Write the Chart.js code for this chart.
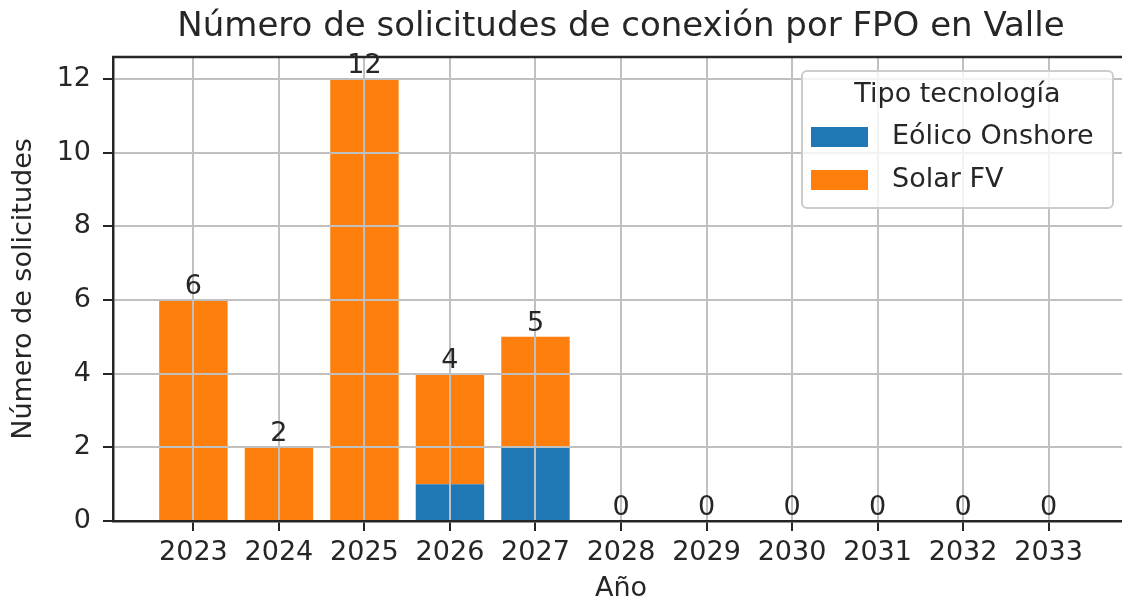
<!DOCTYPE html>
<html>
<head>
<meta charset="utf-8">
<script src="https://cdn.jsdelivr.net/npm/chart.js@4.4.0/dist/chart.umd.min.js"></script>
<style>
html,body{margin:0;padding:0;background:#fff;overflow:hidden}
#wrap{width:1134px;height:605px;position:relative}
</style>
</head>
<body>
<div id="wrap"><canvas id="c"></canvas></div>
<script>
/* ===== DATA ===== */
const years=['2023','2024','2025','2026','2027','2028','2029','2030','2031','2032','2033'];
const eolico=[0,0,0,1,2,0,0,0,0,0,0];
const solar=[6,2,12,3,3,0,0,0,0,0,0];
const yTicks=[0,2,4,6,8,10,12];
const seriesNames=['Eólico Onshore','Solar FV'];
const seriesColors=['#1f77b4','#ff7f0e'];
const legendTitle='Tipo tecnología';
const chartTitle='Número de solicitudes de conexión por FPO en Valle';

const INK='#262626';
const FONT='"DejaVu Sans", sans-serif';
Chart.defaults.font.family=FONT;
Chart.defaults.color=INK;

const totals=years.map((_,i)=>eolico[i]+solar[i]);

// title, totals above bars, top spine, legend box (drawn after grid)
const overlay={
  id:'overlay',
  afterDraw(chart){
    const ctx=chart.ctx, a=chart.chartArea, xs=chart.scales.x, ys=chart.scales.y;
    ctx.save();
    // title centred over the axes
    ctx.font='34px '+FONT;ctx.fillStyle=INK;ctx.textAlign='center';ctx.textBaseline='middle';
    ctx.fillText(chartTitle,(a.left+a.right)/2,27);
    // top spine
    ctx.strokeStyle=INK;ctx.lineWidth=2.5;
    ctx.beginPath();ctx.moveTo(a.left-1,a.top);ctx.lineTo(a.right,a.top);ctx.stroke();
    // bar totals
    ctx.font='27px '+FONT;ctx.textBaseline='alphabetic';
    totals.forEach((t,i)=>ctx.fillText(String(t),xs.getPixelForValue(i),ys.getPixelForValue(t)-6));
    // legend
    const lw=311,lh=137,lx=a.right-16-lw,ly=a.top+14;
    ctx.fillStyle='rgba(255,255,255,0.8)';ctx.strokeStyle='#cccccc';ctx.lineWidth=2;
    ctx.beginPath();ctx.roundRect(lx,ly,lw,lh,5);ctx.fill();ctx.stroke();
    ctx.fillStyle=INK;ctx.textBaseline='middle';ctx.textAlign='center';
    ctx.fillText(legendTitle,lx+lw/2,ly+24);
    seriesNames.forEach((n,k)=>{
      const cy=ly+66+k*43;
      ctx.fillStyle=seriesColors[k];ctx.fillRect(lx+9,cy-10,57,20);
      ctx.fillStyle=INK;ctx.textAlign='left';ctx.fillText(n,lx+90,cy);
    });
    ctx.restore();
  }
};

new Chart(document.getElementById('c'),{
  type:'bar',
  data:{
    datasets:[
      {label:seriesNames[0],data:eolico.map((v,i)=>({x:i,y:v})),backgroundColor:seriesColors[0],
        barPercentage:0.8,categoryPercentage:1},
      {label:seriesNames[1],data:solar.map((v,i)=>({x:i,y:v})),backgroundColor:seriesColors[1],
        barPercentage:0.8,categoryPercentage:1}
    ]
  },
  options:{
    responsive:true,maintainAspectRatio:false,animation:false,
    layout:{padding:{left:0,right:5,top:57,bottom:0}},
    plugins:{legend:{display:false},tooltip:{enabled:false},title:{display:false}},
    scales:{
      x:{type:'linear',stacked:true,offset:false,min:-0.94,max:10.94,
        afterBuildTicks:s=>{s.ticks=years.map((_,i)=>({value:i}));},
        afterFit:s=>{s.height=84;},
        ticks:{callback:v=>years[v],color:INK,font:{size:27},padding:6,maxRotation:0,autoSkip:false},
        grid:{offset:false,z:1,color:'#c0c0c0',lineWidth:2,tickLength:10,tickColor:INK,tickWidth:2},
        border:{color:INK,width:2.5,z:2},
        title:{display:true,text:'Año',color:INK,font:{size:27},padding:{top:0,bottom:0}}
      },
      y:{stacked:true,min:0,max:12.6,
        afterBuildTicks:s=>{s.ticks=yTicks.map(v=>({value:v}));},
        afterFit:s=>{s.width=113;},
        ticks:{color:INK,font:{size:27},padding:12},
        grid:{z:1,color:'#c0c0c0',lineWidth:2,tickLength:10,tickColor:INK,tickWidth:2},
        border:{color:INK,width:2.5,z:2},
        title:{display:true,text:'Número de solicitudes',color:INK,font:{size:27},padding:{top:8,bottom:0}}
      }
    }
  },
  plugins:[overlay]
});
</script>
</body>
</html>
